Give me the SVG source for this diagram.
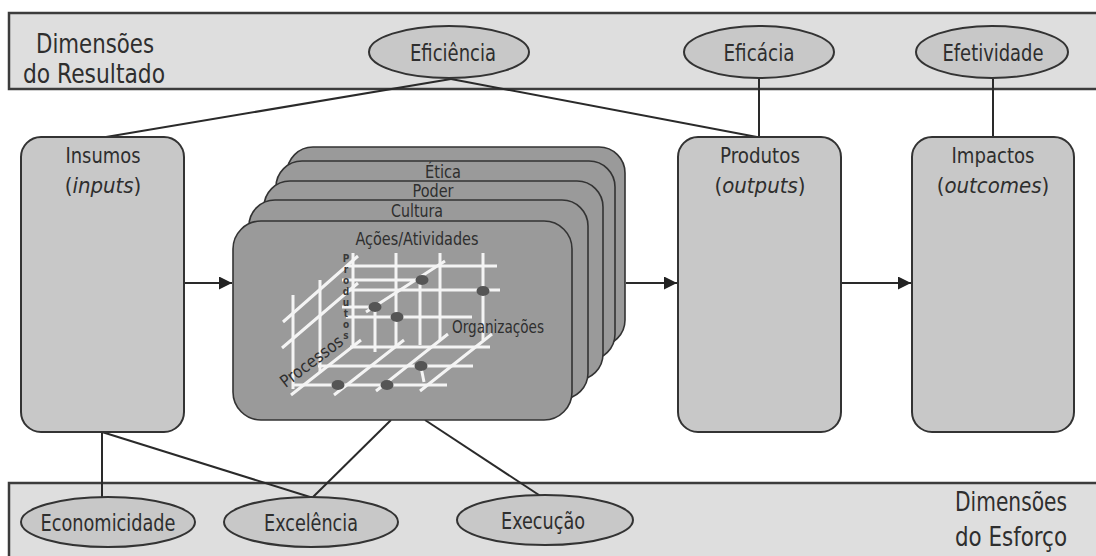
<svg xmlns="http://www.w3.org/2000/svg" width="1096" height="556" viewBox="0 0 1096 556">
<defs>
<style>
.band{fill:#dedede;stroke:#3c3c3c;stroke-width:2.5}
.box{fill:#c8c8c8;stroke:#333;stroke-width:2}
.card{fill:#9a9a9a;stroke:#333;stroke-width:1.6}
.ell{fill:#c8c8c8;stroke:#333;stroke-width:2}
.ln{stroke:#2a2a2a;stroke-width:2;fill:none}
.g{stroke:#f4f4f4;stroke-width:3;fill:none;stroke-linecap:butt}
.dot{fill:#555}
text{font-family:"Liberation Sans Narrow","DejaVu Sans Condensed","Liberation Sans",sans-serif;fill:#2e2e2e}
.big{font-size:27px}
.lab{font-size:23px;text-anchor:middle}
.ttl{font-size:22px;text-anchor:middle}
.crd{font-size:18px;text-anchor:middle}
.sm{font-size:10px;text-anchor:middle;font-weight:bold;fill:#3a3a3a}
</style>
<marker id="arr" viewBox="0 0 10 10" refX="10" refY="5" markerWidth="13" markerHeight="13" markerUnits="userSpaceOnUse" orient="auto">
<path d="M0,0 L10,5 L0,10 z" fill="#222"/>
</marker>
</defs>

<g id="band-resultado">
<rect class="band" x="9" y="13" width="1095" height="76"/>
<text class="big" x="36" y="53" textLength="118" lengthAdjust="spacingAndGlyphs">Dimensões</text>
<text class="big" x="23" y="83" textLength="142" lengthAdjust="spacingAndGlyphs">do Resultado</text>
</g>

<g id="band-esforco">
<rect class="band" x="9" y="483" width="1095" height="80"/>
<text class="big" x="955" y="511" textLength="112" lengthAdjust="spacingAndGlyphs">Dimensões</text>
<text class="big" x="955" y="546" textLength="112" lengthAdjust="spacingAndGlyphs">do Esforço</text>
</g>

<g id="connectors">
<line class="ln" x1="451" y1="79" x2="106" y2="137"/>
<line class="ln" x1="451" y1="79" x2="757" y2="137"/>
<line class="ln" x1="759" y1="79" x2="759" y2="137"/>
<line class="ln" x1="993" y1="79" x2="993" y2="137"/>
<line class="ln" x1="102" y1="432" x2="102" y2="497"/>
<line class="ln" x1="102" y1="432" x2="310" y2="497"/>
<line class="ln" x1="391" y1="420" x2="313" y2="497"/>
<line class="ln" x1="425" y1="420" x2="542" y2="497"/>
<line class="ln" x1="184" y1="283" x2="232" y2="283" marker-end="url(#arr)"/>
<line class="ln" x1="626" y1="283" x2="677" y2="283" marker-end="url(#arr)"/>
<line class="ln" x1="841" y1="283" x2="911" y2="283" marker-end="url(#arr)"/>
</g>

<g id="eficiencia">
<ellipse class="ell" cx="449" cy="52" rx="80" ry="26"/>
<text class="lab" x="453" y="61" textLength="86" lengthAdjust="spacingAndGlyphs">Eficiência</text>
</g>
<g id="eficacia">
<ellipse class="ell" cx="759" cy="52" rx="75" ry="26"/>
<text class="lab" x="759" y="61" textLength="71" lengthAdjust="spacingAndGlyphs">Eficácia</text>
</g>
<g id="efetividade">
<ellipse class="ell" cx="992" cy="52" rx="76" ry="26"/>
<text class="lab" x="993" y="61" textLength="101" lengthAdjust="spacingAndGlyphs">Efetividade</text>
</g>

<g id="economicidade">
<ellipse class="ell" cx="108" cy="522" rx="87" ry="25"/>
<text class="lab" x="108" y="531" textLength="135" lengthAdjust="spacingAndGlyphs">Economicidade</text>
</g>
<g id="excelencia">
<ellipse class="ell" cx="311" cy="522" rx="87" ry="25"/>
<text class="lab" x="311" y="531" textLength="94" lengthAdjust="spacingAndGlyphs">Excelência</text>
</g>
<g id="execucao">
<ellipse class="ell" cx="545" cy="520" rx="88" ry="25"/>
<text class="lab" x="543" y="529" textLength="84" lengthAdjust="spacingAndGlyphs">Execução</text>
</g>

<g id="insumos">
<rect class="box" x="21" y="137" width="163" height="295" rx="20"/>
<text class="ttl" x="103" y="163" textLength="75" lengthAdjust="spacingAndGlyphs">Insumos</text>
<text class="ttl" x="103" y="193">(<tspan font-style="italic">inputs</tspan>)</text>
</g>

<g id="produtos">
<rect class="box" x="678" y="137" width="163" height="295" rx="20"/>
<text class="ttl" x="760" y="163" textLength="80" lengthAdjust="spacingAndGlyphs">Produtos</text>
<text class="ttl" x="760" y="193">(<tspan font-style="italic">outputs</tspan>)</text>
</g>

<g id="impactos">
<rect class="box" x="912" y="137" width="162" height="295" rx="20"/>
<text class="ttl" x="993" y="163" textLength="83" lengthAdjust="spacingAndGlyphs">Impactos</text>
<text class="ttl" x="993" y="193">(<tspan font-style="italic">outcomes</tspan>)</text>
</g>

<g id="card-back">
<rect class="card" x="287" y="147" width="338" height="199" rx="26"/>
</g>
<g id="card-etica">
<rect class="card" x="276" y="161" width="339" height="199" rx="26"/>
<text class="crd" x="443" y="178" textLength="36" lengthAdjust="spacingAndGlyphs">Ética</text>
</g>
<g id="card-poder">
<rect class="card" x="264" y="181" width="339" height="199" rx="26"/>
<text class="crd" x="433" y="197" textLength="41" lengthAdjust="spacingAndGlyphs">Poder</text>
</g>
<g id="card-cultura">
<rect class="card" x="249" y="200" width="339" height="199" rx="26"/>
<text class="crd" x="417" y="217" textLength="52" lengthAdjust="spacingAndGlyphs">Cultura</text>
</g>
<g id="card-acoes">
<rect class="card" x="233" y="221" width="339" height="199" rx="28"/>
<text class="crd" x="417" y="245" textLength="123" lengthAdjust="spacingAndGlyphs">Ações/Atividades</text>
<g id="grid">
<path class="g" d="M353,253 V347 M396,253 V347 M440,253 V340 M483,253 V340"/>
<path class="g" d="M348,266 H497 M346,290 H500 M346,317 H472 M350,347 H490"/>
<path class="g" d="M342,280 H420 V345 M342,307 H375 V352 M366,312 L445,261"/>
<path class="g" d="M318,366 H473 M294,385 H447"/>
<path class="g" d="M361,340 L291,395 M404,340 L334,395 M448,334 L376,391 M492,334 L420,391"/>
<path class="g" d="M320,280 V373 M293,295 V389"/>
<path class="g" d="M358,256 L283,322 M358,283 L282,348"/>
<path class="g" d="M421,367 L424,382"/>
<ellipse class="dot" cx="422" cy="280" rx="6.5" ry="5"/>
<ellipse class="dot" cx="483" cy="291" rx="6.5" ry="5"/>
<ellipse class="dot" cx="375" cy="307" rx="6.5" ry="5"/>
<ellipse class="dot" cx="397" cy="317" rx="6.5" ry="5"/>
<ellipse class="dot" cx="421" cy="366" rx="6.5" ry="5"/>
<ellipse class="dot" cx="338" cy="385" rx="6.5" ry="5"/>
<ellipse class="dot" cx="387" cy="385" rx="6.5" ry="5"/>
<text class="sm" x="346" y="262">P<tspan x="346" dy="11">r</tspan><tspan x="346" dy="11">o</tspan><tspan x="346" dy="11">d</tspan><tspan x="346" dy="11">u</tspan><tspan x="346" dy="11">t</tspan><tspan x="346" dy="11">o</tspan><tspan x="346" dy="11">s</tspan></text>
<text x="312" y="367" font-size="17" text-anchor="middle" transform="rotate(-37 312 362)" textLength="74" lengthAdjust="spacingAndGlyphs">Processos</text>
<text x="452" y="333" font-size="18" textLength="92" lengthAdjust="spacingAndGlyphs">Organizações</text>
</g>
</g>
</svg>
